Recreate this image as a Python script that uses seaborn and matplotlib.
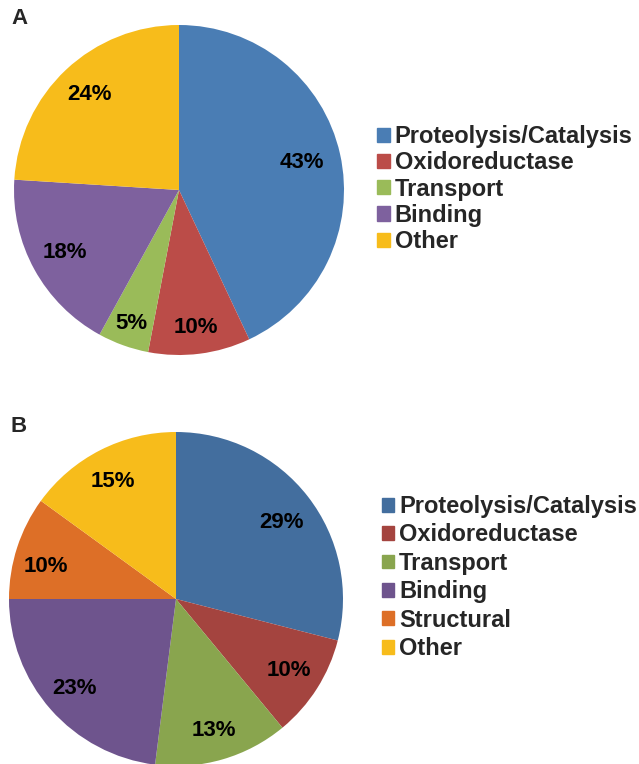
import matplotlib.pyplot as plt
import matplotlib.patches as mpatches
import numpy as np
import seaborn as sns

# Dados
cats_a = ['Proteolysis/Catalysis', 'Oxidoreductase', 'Transport', 'Binding', 'Other']
vals_a = [43, 10, 5, 18, 24]
cats_b = ['Proteolysis/Catalysis', 'Oxidoreductase', 'Transport', 'Binding', 'Structural', 'Other']
vals_b = [29, 10, 13, 23, 10, 15]

cores_a = ['#4A7DB4', '#BB4C48', '#9ABB59', '#7E619E', '#F7BC1B']
cores_b = ['#436E9E', '#A4443F', '#89A54E', '#6E548D', '#DD6F27', '#F7BC1B']

# distancia do rotulo (fração do raio) e pequeno desvio de angulo, para parecer com o original
dist_a = [0.76, 0.84, 0.86, 0.79, 0.79]
dist_b = [0.78, 0.80, 0.82, 0.81, 0.80, 0.80]
desvio_b = [-2, 0, 0, 0, 4, 1]

sns.set_style('white')
plt.rcParams['font.family'] = ['Liberation Sans', 'DejaVu Sans']
plt.rcParams['font.weight'] = 'bold'

fig = plt.figure(figsize=(6.39, 7.64), dpi=100)


def desenha_pizza(ax, vals, cores, dist, desvio=None):
    if desvio is None:
        desvio = [0] * len(vals)
    wedges, _ = ax.pie(vals, colors=cores, startangle=90, counterclock=False,
                       radius=1, wedgeprops={'linewidth': 0})
    for w, v, d, off in zip(wedges, vals, dist, desvio):
        ang = np.deg2rad((w.theta1 + w.theta2) / 2 + off)
        ax.text(d * np.cos(ang), d * np.sin(ang), f'{v}%', ha='center', va='center',
                fontsize=16, fontweight='bold', color='black')
    ax.set_xlim(-1, 1)
    ax.set_ylim(-1, 1)
    ax.set_aspect('equal')
    ax.axis('off')
    return wedges


# Gráfico A
ax_a = fig.add_axes([14 / 639, 1 - 355 / 764, 330 / 639, 330 / 764])
desenha_pizza(ax_a, vals_a, cores_a, dist_a)

# Gráfico B
ax_b = fig.add_axes([9 / 639, 1 - 766 / 764, 334 / 639, 334 / 764])
desenha_pizza(ax_b, vals_b, cores_b, dist_b, desvio_b)

# Legendas
handles_a = [mpatches.Patch(color=c, label=l) for c, l in zip(cores_a, cats_a)]
fig.legend(handles=handles_a, loc='upper left', bbox_to_anchor=(377 / 639, 1 - 125 / 764),
           frameon=False, fontsize=17, handlelength=0.55, handleheight=0.55,
           handletextpad=0.2, labelspacing=0.14, borderaxespad=0, borderpad=0)

handles_b = [mpatches.Patch(color=c, label=l) for c, l in zip(cores_b, cats_b)]
fig.legend(handles=handles_b, loc='upper left', bbox_to_anchor=(382 / 639, 1 - 495 / 764),
           frameon=False, fontsize=17, handlelength=0.52, handleheight=0.52,
           handletextpad=0.2, labelspacing=0.23, borderaxespad=0, borderpad=0)

# Letras dos paineis
fig.text(11 / 639, 1 - 19 / 764, 'A', fontsize=16, fontweight='bold', va='center')
fig.text(11 / 639, 1 - 426 / 764, 'B', fontsize=16, fontweight='bold', va='center')

plt.savefig('out.png', dpi=100)
